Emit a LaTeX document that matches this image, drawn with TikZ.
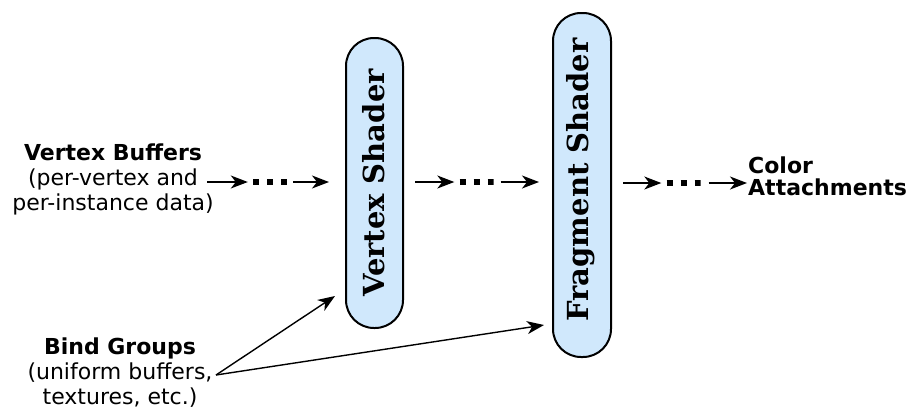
\documentclass[tikz,border=0pt]{standalone}
\usepackage{fontspec}
\setmainfont{DejaVu Sans}
\newfontfamily\shaderfont{DejaVu Serif}
\usetikzlibrary{arrows.meta,calc}
\definecolor{shaderfill}{RGB}{208,232,252}
\begin{document}
\begin{tikzpicture}[x=1pt,y=-1pt,
  lbl/.style={font=\fontsize{22}{25}\selectfont, align=center, inner sep=0pt},
  shaderbox/.style={draw, line width=2pt, fill=shaderfill, rounded corners=28pt, inner sep=0pt},
  shadertext/.style={font=\shaderfont\bfseries\fontsize{29}{32}\selectfont, rotate=90, inner sep=0pt},
  arr/.style={line width=1.4pt, -{Stealth[length=17pt,width=13pt,inset=5pt]}},
  dotsgap/.style={minimum width=34pt, minimum height=6pt, inner sep=0pt,
    path picture={\draw[line width=6pt, dash pattern=on 6pt off 8pt]
      (path picture bounding box.west) -- (path picture bounding box.east);}}
]
\useasboundingbox (0,0) rectangle (912,415);

% shader boxes
\node[shaderbox, minimum width=57pt, minimum height=290pt] (vs) at (374.5,183) {};
\node[shadertext] (vst) at (374,183) {Vertex Shader};
\node[shaderbox, minimum width=58pt, minimum height=344pt] (fs) at (582,185) {};
\node[shadertext] (fst) at (581,180) {Fragment Shader};

% labels
\node[lbl] (vb) at (113,179) {\textbf{Vertex Buffers}\\(per-vertex and\\per-instance data)};
\node[lbl] (bg) at (120,373) {\textbf{Bind Groups}\\(uniform buffers,\\textures, etc.)};
\node[lbl, align=left, anchor=west, font=\fontsize{22}{22}\selectfont\bfseries] (ca) at (748,176) {Color\\Attachments};

% dots
\node[dotsgap] (d1) at (270,182) {};
\node[dotsgap] (d2) at (476.5,182) {};
\node[dotsgap] (d3) at (683.5,183) {};

\coordinate (vbout) at (207,182);
\coordinate (bgout) at (216,375);

% pipeline arrows
\draw[arr, shorten >=5pt] (vbout) -- (d1.west);
\draw[arr, shorten <=6pt, shorten >=16pt] (d1.east) -- (d1.east -| vs.west);
\draw[arr, shorten <=11pt, shorten >=5pt] (d2.west -| vs.east) -- (d2.west);
\draw[arr, shorten <=7pt, shorten >=13pt] (d2.east) -- (d2.east -| fs.west);
\draw[arr, shorten <=11pt, shorten >=5pt] (d3.west -| fs.east) -- (d3.west);
\draw[arr, shorten <=8pt, shorten >=1pt] (d3.east) -- (d3.east -| ca.west);

% bind group arrows
\draw[arr] (bgout) -- ($(vs.south west)+(-10,-33)$);
\draw[arr] (bgout) -- ($(fs.west)+(-8,140)$);
\end{tikzpicture}
\end{document}
